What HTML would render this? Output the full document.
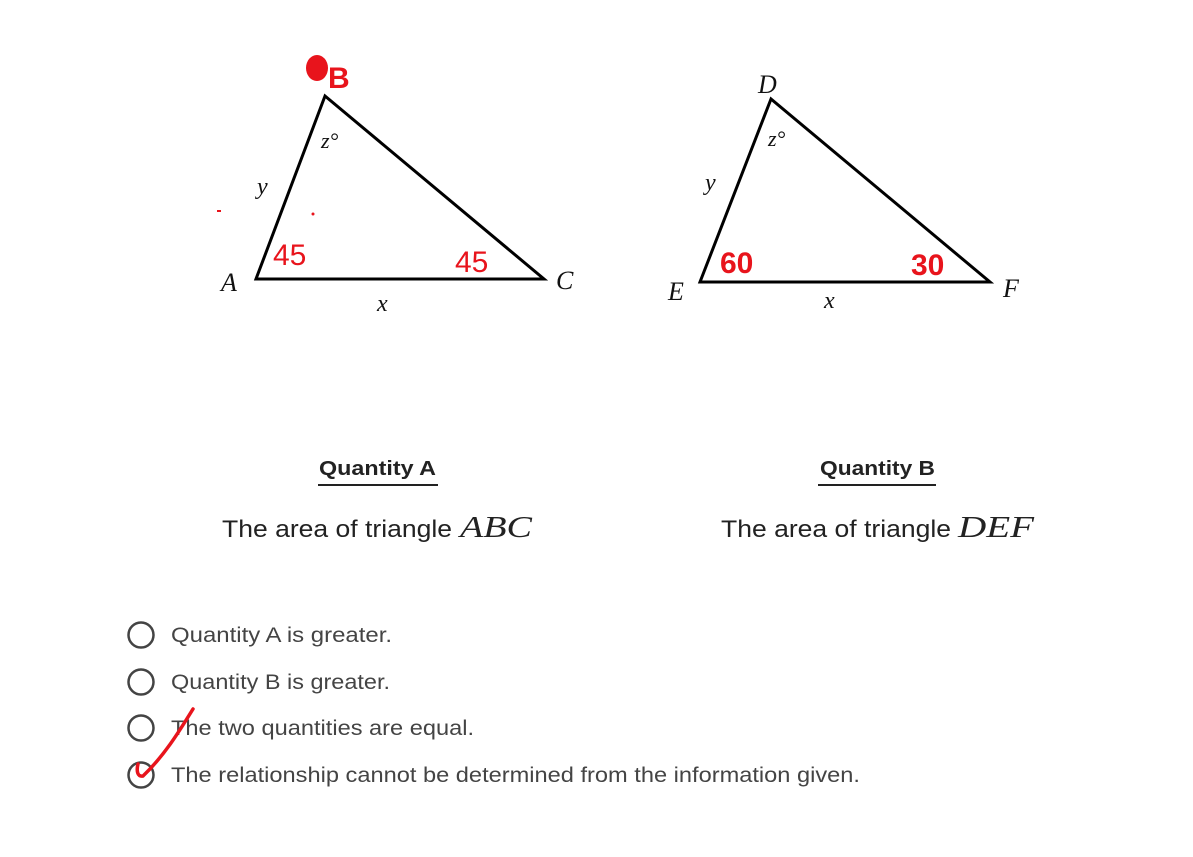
<!DOCTYPE html>
<html><head><meta charset="utf-8"><style>
html,body{margin:0;padding:0;background:#fff;width:1193px;height:857px;overflow:hidden}
svg{display:block}
.m{font-family:"Liberation Serif",serif;font-style:italic;fill:#111}
.s{font-family:"Liberation Sans",sans-serif}
.r{font-family:"Liberation Sans",sans-serif;fill:#e8141c;font-size:30px}
</style></head><body>
<svg width="1193" height="857" viewBox="0 0 1193 857">
<polygon points="325,96 256,279 544,279" fill="none" stroke="#000" stroke-width="3" stroke-linejoin="miter"/>
<polygon points="771,99 700,282 990,282" fill="none" stroke="#000" stroke-width="3"/>
<text class="m" x="221" y="291" font-size="26">A</text>
<text class="m" x="556" y="289" font-size="26">C</text>
<text class="m" x="257" y="194" font-size="24">y</text>
<text class="m" x="321" y="148" font-size="22">z°</text>
<text class="m" x="377" y="311" font-size="24">x</text>
<text class="m" x="758" y="93" font-size="26">D</text>
<text class="m" x="668" y="300" font-size="26">E</text>
<text class="m" x="1003" y="297" font-size="26">F</text>
<text class="m" x="705" y="190" font-size="24">y</text>
<text class="m" x="768" y="146" font-size="22">z°</text>
<text class="m" x="824" y="308" font-size="24">x</text>
<ellipse cx="317" cy="68" rx="11" ry="13" fill="#e8141c"/>
<text class="r" x="328" y="88" font-size="34" font-weight="bold">B</text>
<text class="r" x="273" y="265">45</text>
<text class="r" x="455" y="272">45</text>
<text class="r" x="720" y="273" font-weight="bold">60</text>
<text class="r" x="911" y="275" font-weight="bold" font-size="26">30</text>
<circle cx="313" cy="214" r="1.5" fill="#e8141c"/>
<rect x="217" y="210" width="4" height="2" fill="#e8141c"/>
<text class="s" x="319" y="475" font-size="20" font-weight="bold" fill="#222" textLength="117" lengthAdjust="spacingAndGlyphs">Quantity A</text>
<rect x="318" y="484" width="120" height="2" fill="#222"/>
<text class="s" x="820" y="475" font-size="20" font-weight="bold" fill="#222" textLength="115" lengthAdjust="spacingAndGlyphs">Quantity B</text>
<rect x="818" y="484" width="118" height="2" fill="#222"/>
<text class="s" x="222" y="537" font-size="24" fill="#222" textLength="230" lengthAdjust="spacingAndGlyphs">The area of triangle</text>
<text class="m" x="460" y="537" font-size="31" textLength="72" lengthAdjust="spacingAndGlyphs" style="fill:#222">ABC</text>
<text class="s" x="721" y="537" font-size="24" fill="#222" textLength="230" lengthAdjust="spacingAndGlyphs">The area of triangle</text>
<text class="m" x="958" y="537" font-size="31" textLength="76" lengthAdjust="spacingAndGlyphs" style="fill:#222">DEF</text>
<g fill="none" stroke="#444" stroke-width="2.5">
<circle cx="141" cy="635" r="12.5"/><circle cx="141" cy="682" r="12.5"/><circle cx="141" cy="728" r="12.5"/><circle cx="141" cy="775" r="12.5"/>
</g>
<g class="s" font-size="21" fill="#444">
<text x="171" y="642" textLength="221" lengthAdjust="spacingAndGlyphs">Quantity A is greater.</text>
<text x="171" y="689" textLength="219" lengthAdjust="spacingAndGlyphs">Quantity B is greater.</text>
<text x="171" y="735" textLength="303" lengthAdjust="spacingAndGlyphs">The two quantities are equal.</text>
<text x="171" y="782" textLength="689" lengthAdjust="spacingAndGlyphs">The relationship cannot be determined from the information given.</text>
</g>
<path d="M193,709 C180,730 165,755 143,776 C138,777 136,772 138,764" fill="none" stroke="#e8141c" stroke-width="3.5" stroke-linecap="round"/>
</svg>
</body></html>
